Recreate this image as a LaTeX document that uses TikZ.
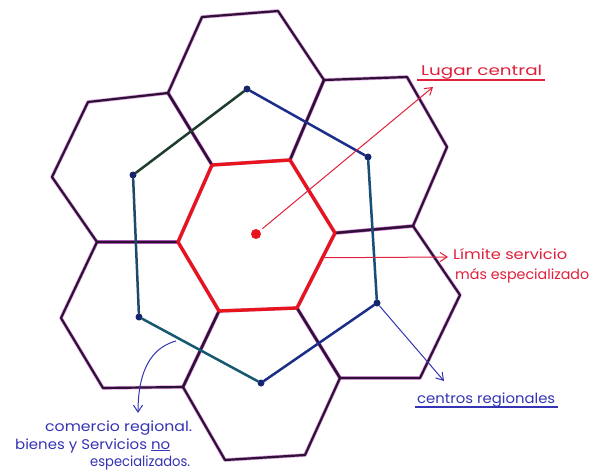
\documentclass[tikz,border=0pt]{standalone}
\usepackage{graphicx}
\usepackage{fontspec}
\setmainfont{Poppins}
\usetikzlibrary{arrows.meta,calc}
\definecolor{hexdark}{HTML}{2E1236}
\definecolor{hexglow}{HTML}{C040C8}
\definecolor{redhex}{HTML}{E8141C}
\definecolor{redtxt}{HTML}{E0203C}
\definecolor{bluetxt}{HTML}{3434B4}
\definecolor{lnkgreen}{HTML}{1F3D2C}
\definecolor{lnkblue}{HTML}{1B2F8A}
\definecolor{lnkteal}{HTML}{1D4A6A}
\newcommand{\wbox}[2]{\resizebox{#1pt}{\height}{#2}}
\begin{document}
\begin{tikzpicture}[x=1pt,y=-1pt,
  hexglowline/.style={draw=hexglow, line width=3.6pt, line join=round, opacity=0.5},
  hexline/.style={draw=hexdark, line width=2.2pt, line join=round},
  redline/.style={draw=redhex, line width=3.3pt, line join=round},
  reglink/.style={line width=2.5pt, line cap=round},
  rcenter/.style={circle, fill=lnkblue!80!black, inner sep=0pt, minimum size=7pt},
  reddot/.style={circle, fill=redhex, inner sep=0pt, minimum size=10pt},
  thinarrow/.style={line width=1pt, -{Straight Barb[length=7pt,width=9pt]}},
  redlabel/.style={text=redtxt, font=\fontsize{14}{16}\selectfont, inner sep=0pt},
  bluelabel/.style={text=bluetxt, font=\fontsize{14}{16}\selectfont, inner sep=0pt}
]
\path[use as bounding box, fill=white] (0,0) rectangle (592,472);

% central hexagon vertices
\coordinate (R1) at (212,165);
\coordinate (R2) at (290,160);
\coordinate (R3) at (335,233);
\coordinate (R4) at (297,308);
\coordinate (R5) at (219,311);
\coordinate (R6) at (178,242);
% outer vertices
\coordinate (T1) at (168,93);
\coordinate (T2) at (202,17);
\coordinate (T3) at (278,11);
\coordinate (T4) at (324,80);
\coordinate (U2) at (407,77);
\coordinate (U3) at (447,147);
\coordinate (U4) at (413,226);
\coordinate (L3) at (460,295);
\coordinate (L4) at (420,378);
\coordinate (L5) at (340,378);
\coordinate (B4) at (305,455);
\coordinate (B5) at (225,460);
\coordinate (B6) at (183,387);
\coordinate (W4) at (103,388);
\coordinate (W5) at (61,318);
\coordinate (W6) at (97,242);
\coordinate (V1) at (88,102);
\coordinate (V5) at (52,177);

\foreach \st in {hexglowline,hexline}{
  \path[\st] (T1) -- (T2) -- (T3) -- (T4) -- (R2) -- (R1) -- cycle;
  \path[\st] (R2) -- (T4) -- (U2) -- (U3) -- (U4) -- (R3) -- cycle;
  \path[\st] (R3) -- (U4) -- (L3) -- (L4) -- (L5) -- (R4) -- cycle;
  \path[\st] (R5) -- (R4) -- (L5) -- (B4) -- (B5) -- (B6) -- cycle;
  \path[\st] (R6) -- (R5) -- (B6) -- (W4) -- (W5) -- (W6) -- cycle;
  \path[\st] (V1) -- (T1) -- (R1) -- (R6) -- (W6) -- (V5) -- cycle;
}
\path[redline] (R1) -- (R2) -- (R3) -- (R4) -- (R5) -- (R6) -- cycle;

% regional centres
\node[rcenter] (C1) at (247,89) {};
\node[rcenter] (C2) at (368,157) {};
\node[rcenter] (C3) at (377,303) {};
\node[rcenter] (C4) at (261,383) {};
\node[rcenter] (C5) at (139,317) {};
\node[rcenter] (C6) at (133,175) {};
\draw[reglink, lnkgreen] (C1) -- (C6);
\draw[reglink, lnkblue] (C1) -- (C2);
\draw[reglink, lnkblue!85!green] (C2) -- (C3);
\draw[reglink, lnkteal] (C6) -- (C5);
\draw[reglink, lnkblue!80!green] (C5) -- (C4);
\draw[reglink, lnkblue] (C4) -- (C3);

% central place
\node[reddot] (dot) at (256,234) {};

% labels
\node[redlabel, anchor=base west] (lugar) at (421,75) {\wbox{121}{Lugar central}};
\draw[redtxt, line width=1.1pt] (417,80) -- (545,80);
\coordinate (lugartip) at (433,87);
\draw[thinarrow, redtxt, shorten <=3pt] (dot) -- (lugartip);

\node[redlabel, anchor=base west] (lim1) at (453,259) {\wbox{114}{Límite servicio}};
\node[redlabel, anchor=base west] (lim2) at (455,279) {\wbox{134}{más especializado}};
\coordinate (limstart) at ($(R3)!0.33!(R4)$);
\coordinate (limtip) at (448,257);
\draw[thinarrow, redtxt] (limstart) -- (limtip);

\node[bluelabel, anchor=base west] (cen) at (417,403) {\wbox{138}{centros regionales}};
\draw[bluetxt, line width=1.1pt] (415,407) -- (558,407);
\coordinate (centip) at (444,381);
\draw[thinarrow, bluetxt] (C3) -- (centip);

\node[bluelabel, anchor=base west] (com1) at (45,431) {\wbox{147}{comercio regional.}};
\node[bluelabel, anchor=base west] (com2) at (15,449) {\wbox{155}{bienes y Servicios \underline{no}}};
\node[bluelabel, anchor=base west] (com3) at (90,466) {\wbox{100}{especializados.}};
\coordinate (comstart) at (176,341);
\coordinate (comtip) at (138,413);
\draw[thinarrow, bluetxt] (comstart) to[out=195, in=90] (comtip);
\end{tikzpicture}
\end{document}
